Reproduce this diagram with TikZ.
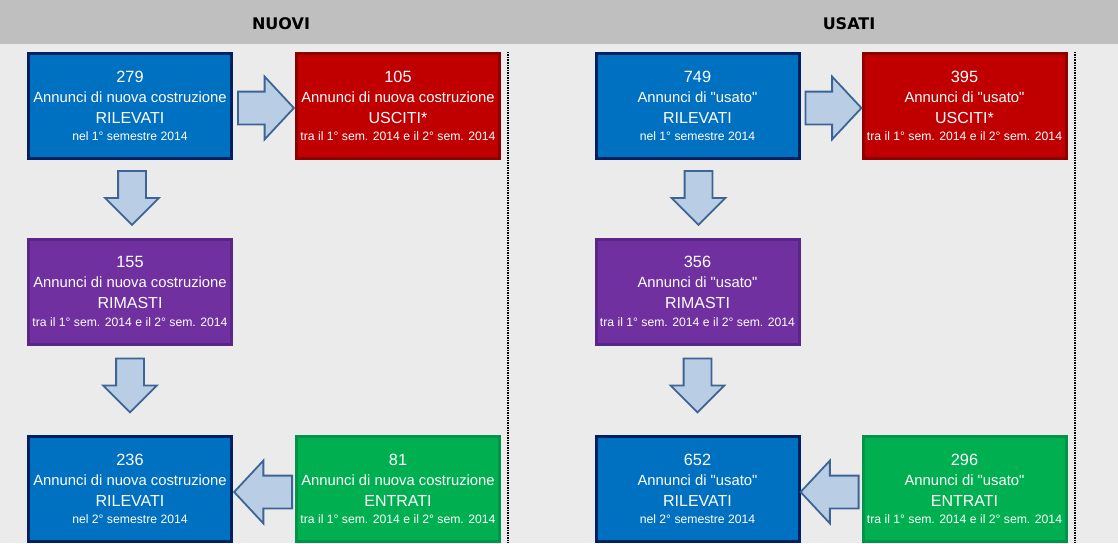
\documentclass[tikz,border=0pt]{standalone}
\usepackage{fontspec}
\setmainfont{Liberation Sans}[Ligatures=TeXOff]
\newfontfamily\headfont{DejaVu Sans}
\usetikzlibrary{calc,shapes.arrows}

\definecolor{hdrgray}{HTML}{BFBFBF}
\definecolor{bggray}{HTML}{EBEBEB}
\definecolor{rilblue}{HTML}{0070C0}
\definecolor{rilline}{HTML}{002060}
\definecolor{uscred}{HTML}{C00000}
\definecolor{uscline}{HTML}{8C0000}
\definecolor{rimviolet}{HTML}{7030A0}
\definecolor{rimline}{HTML}{5A2687}
\definecolor{entgreen}{HTML}{00B050}
\definecolor{entline}{HTML}{00934A}
\definecolor{arrfill}{HTML}{B9CDE5}
\definecolor{arrline}{HTML}{3C6494}

\newcommand{\cardtext}[4]{{\fontsize{16.3}{20}\selectfont #1}\\#2\\[0.7pt]{\fontsize{16}{20}\selectfont #3}\\[-2.3pt]{\fontsize{12.2}{20}\selectfont #4}}

\begin{document}
\begin{tikzpicture}[x=1pt,y=-1pt,
  card/.style={draw,line width=3pt,minimum width=203pt,minimum height=105pt,inner sep=0pt,
    align=center,text=white,font=\fontsize{14.8}{20}\selectfont},
  rilevati/.style={card,fill=rilblue,draw=rilline},
  usciti/.style={card,fill=uscred,draw=uscline},
  rimasti/.style={card,fill=rimviolet,draw=rimline},
  entrati/.style={card,fill=entgreen,draw=entline},
  blockarr/.style={single arrow,draw=arrline,fill=arrfill,line width=1.8pt,inner xsep=0pt,anchor=tail},
  harr/.style={blockarr,inner ysep=15.5pt,single arrow head extend=15pt,single arrow tip angle=94,minimum height=56pt},
  varr/.style={blockarr,inner ysep=13pt,single arrow head extend=13pt,minimum height=54pt,rotate=-90},
  head/.style={font=\headfont\bfseries\fontsize{16}{18}\selectfont,text=black},
  divider/.style={line width=1.2pt,dash pattern=on 1.5pt off 1pt}]
\useasboundingbox (0,0) rectangle (1118,543);
\fill[bggray] (0,0) rectangle (1118,543);
\fill[hdrgray] (0,0) rectangle (1118,44);
\node[head] (nuovi) at (281,23.5) {NUOVI};
\node[head] (usati) at (849,23.5) {USATI};
\foreach \x in {508,1075}{\draw[divider] (\x,52) -- (\x,543);}

\node[rilevati] (ril1) at (130,106) {\cardtext{279}{Annunci di nuova costruzione}{RILEVATI}{nel 1° semestre 2014}};
\node[usciti] (usc1) at (398,106) {\cardtext{105}{Annunci di nuova costruzione}{USCITI*}{tra il 1° sem. 2014 e il 2° sem. 2014}};
\node[rimasti] (rim1) at (130,291.5) {\cardtext{155}{Annunci di nuova costruzione}{RIMASTI}{tra il 1° sem. 2014 e il 2° sem. 2014}};
\node[rilevati] (rilb1) at (130,489) {\cardtext{236}{Annunci di nuova costruzione}{RILEVATI}{nel 2° semestre 2014}};
\node[entrati] (ent1) at (398,489) {\cardtext{81}{Annunci di nuova costruzione}{ENTRATI}{tra il 1° sem. 2014 e il 2° sem. 2014}};

\node[rilevati] (ril2) at (697.5,106) {\cardtext{749}{Annunci di "usato"}{RILEVATI}{nel 1° semestre 2014}};
\node[usciti] (usc2) at (964.5,106) {\cardtext{395}{Annunci di "usato"}{USCITI*}{tra il 1° sem. 2014 e il 2° sem. 2014}};
\node[rimasti] (rim2) at (697.5,291.5) {\cardtext{356}{Annunci di "usato"}{RIMASTI}{tra il 1° sem. 2014 e il 2° sem. 2014}};
\node[rilevati] (rilb2) at (697.5,489) {\cardtext{652}{Annunci di "usato"}{RILEVATI}{nel 2° semestre 2014}};
\node[entrati] (ent2) at (964.5,489) {\cardtext{296}{Annunci di "usato"}{ENTRATI}{tra il 1° sem. 2014 e il 2° sem. 2014}};

\node[harr] (out1) at ($(ril1.east)+(4,2)$) {};
\node[varr] (stay1) at ($(ril1.south)+(2,10)$) {};
\node[varr] (next1) at ($(rim1.south)+(0,12)$) {};
\node[harr,rotate=180,minimum height=58pt] (in1) at ($(ent1.west)+(-2,3)$) {};
\node[harr] (out2) at ($(ril2.east)+(4,2)$) {};
\node[varr] (stay2) at ($(ril2.south)+(1,10)$) {};
\node[varr] (next2) at ($(rim2.south)+(0,12)$) {};
\node[harr,rotate=180,minimum height=58pt] (in2) at ($(ent2.west)+(-2,3)$) {};
\end{tikzpicture}
\end{document}
